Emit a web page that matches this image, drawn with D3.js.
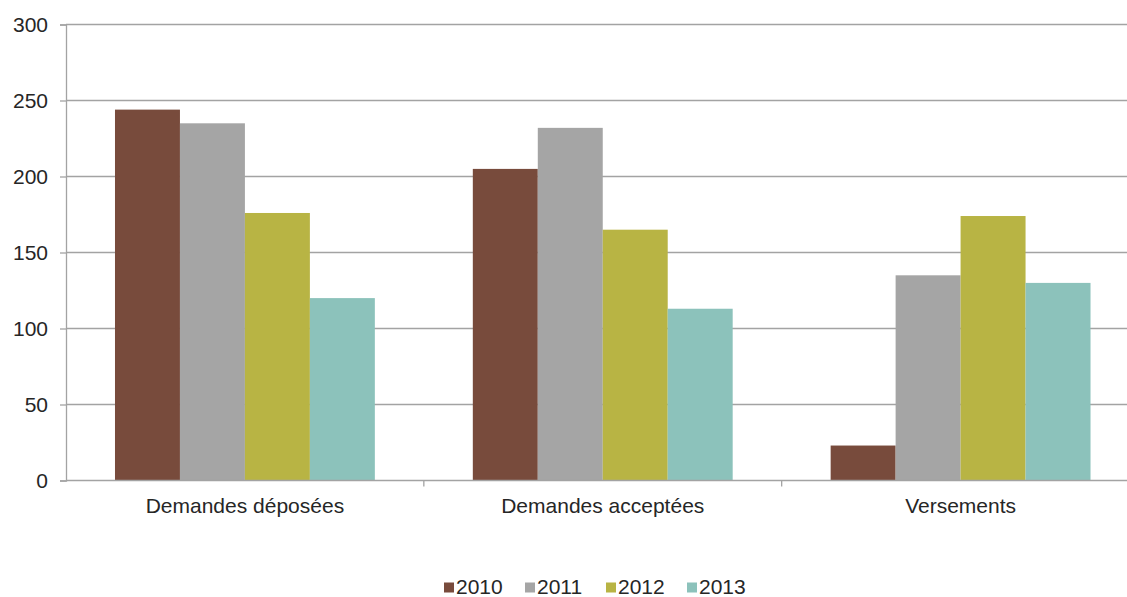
<!DOCTYPE html>
<html>
<head>
<meta charset="utf-8">
<script src="https://cdn.jsdelivr.net/npm/d3@7"></script>
<style>
  body { margin: 0; background: #fff; }
  svg { display: block; font-family: "Liberation Sans", Arial, sans-serif; }
</style>
</head>
<body>
<svg id="chart" width="1127" height="597"></svg>
<script>
const categories = ["Demandes déposées", "Demandes acceptées", "Versements"]
const years = ["2010", "2011", "2012", "2013"]
const values2010 = [244, 205, 23]
const values2011 = [235, 232, 135]
const values2012 = [176, 165, 174]
const values2013 = [120, 113, 130]
const yTicks = [0, 50, 100, 150, 200, 250, 300]

const series = [values2010, values2011, values2012, values2013]
const colors = ["#784b3c", "#a5a5a5", "#b8b444", "#8cc2bb"]

const marginLeft = 66
const plotRight = 1139.5
const plotTop = 24.5
const plotBottom = 480.5

const svg = d3.select("#chart")

const x = d3.scaleBand()
  .domain(categories)
  .range([marginLeft, plotRight])
  .padding(0)

const xInner = d3.scaleBand()
  .domain(years)
  .range([0, x.bandwidth()])
  .paddingInner(0)
  .paddingOuter(0.754)

const y = d3.scaleLinear()
  .domain([0, 300])
  .range([plotBottom, plotTop])

// gridlines
svg.append("g")
  .selectAll("line")
  .data(yTicks.filter(d => d > 0))
  .enter()
  .append("line")
  .attr("x1", marginLeft)
  .attr("x2", plotRight)
  .attr("y1", d => y(d))
  .attr("y2", d => y(d))
  .attr("stroke", "#a3a3a3")
  .attr("stroke-width", 1.3)

// bars
categories.forEach((cat, ci) => {
  svg.append("g")
    .selectAll("rect")
    .data(years)
    .enter()
    .append("rect")
    .attr("x", yr => x(cat) + xInner(yr))
    .attr("width", xInner.bandwidth())
    .attr("y", (yr, i) => y(series[i][ci]))
    .attr("height", (yr, i) => y(0) - y(series[i][ci]))
    .attr("fill", (yr, i) => colors[i])
})

// y axis
const yAxis = svg.append("g")
  .attr("transform", `translate(${marginLeft},0)`)
  .call(d3.axisLeft(y).tickValues(yTicks).tickSize(6).tickPadding(12))
yAxis.select(".domain").attr("stroke", "#a3a3a3").attr("stroke-width", 1.3)
yAxis.selectAll(".tick line").attr("stroke", "#a3a3a3").attr("stroke-width", 1.3)
yAxis.selectAll(".tick text")
  .attr("font-size", 21)
  .attr("font-family", "Liberation Sans, Arial, sans-serif")
  .attr("fill", "#262626")

// x axis
const xAxis = svg.append("g")
  .attr("transform", `translate(0,${plotBottom})`)
xAxis.append("line")
  .attr("x1", marginLeft)
  .attr("x2", plotRight)
  .attr("stroke", "#a3a3a3")
  .attr("stroke-width", 1.3)
xAxis.selectAll(".sep")
  .data(categories)
  .enter()
  .append("line")
  .attr("class", "sep")
  .attr("x1", d => x(d) + x.bandwidth())
  .attr("x2", d => x(d) + x.bandwidth())
  .attr("y1", 0)
  .attr("y2", 6)
  .attr("stroke", "#a3a3a3")
  .attr("stroke-width", 1.3)
xAxis.selectAll(".cat")
  .data(categories)
  .enter()
  .append("text")
  .attr("class", "cat")
  .attr("x", d => x(d) + x.bandwidth() / 2)
  .attr("y", 32.5)
  .attr("text-anchor", "middle")
  .attr("font-size", 21)
  .attr("fill", "#262626")
  .text(d => d)

// legend
const legend = svg.append("g")
  .attr("transform", "translate(444,587)")
const item = legend.selectAll("g")
  .data(years)
  .enter()
  .append("g")
  .attr("transform", (d, i) => `translate(${i * 81},0)`)
item.append("rect")
  .attr("x", 0)
  .attr("y", -4.5)
  .attr("width", 10)
  .attr("height", 10)
  .attr("fill", (d, i) => colors[i])
item.append("text")
  .attr("x", 12)
  .attr("y", 6.5)
  .attr("font-size", 21)
  .attr("fill", "#262626")
  .text(d => d)
</script>
</body>
</html>
